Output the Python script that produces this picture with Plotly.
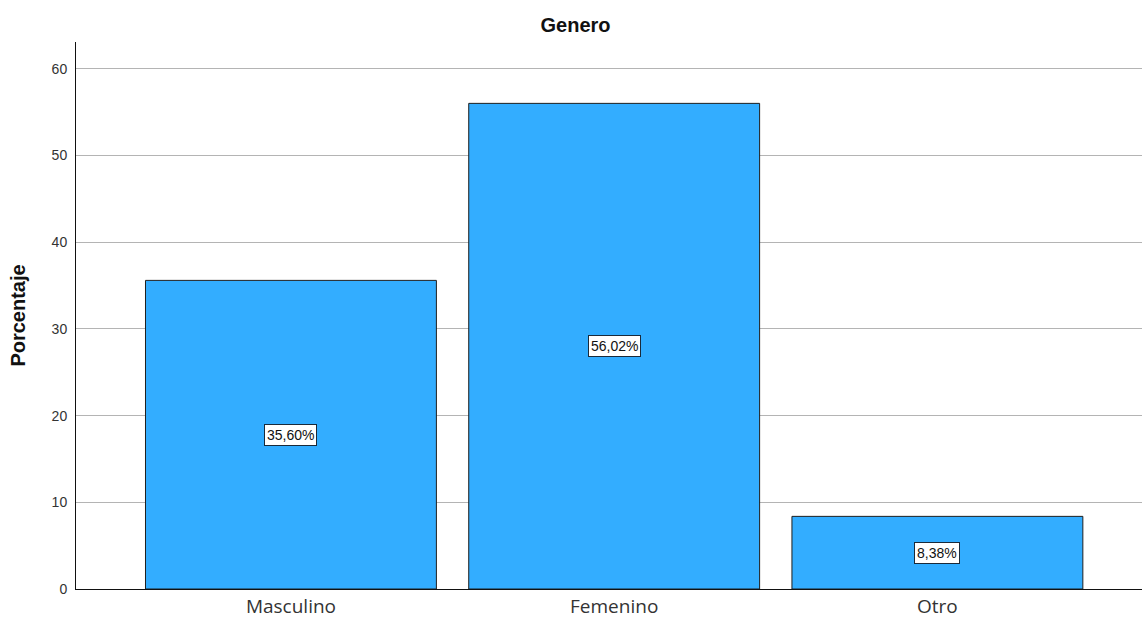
import plotly.graph_objects as go

categories = ["Masculino", "Femenino", "Otro"]
percentages = [35.60, 56.02, 8.38]
labels = ["35,60%", "56,02%", "8,38%"]
y_ticks = [0, 10, 20, 30, 40, 50, 60]

fig = go.Figure()
fig.add_trace(go.Bar(
    x=categories, y=percentages,
    marker=dict(color="#33adff", line=dict(color="#1f1f1f", width=1)),
    width=0.9,
    hoverinfo="skip",
))

for c, v, t in zip(categories, percentages, labels):
    fig.add_annotation(
        x=c, y=v / 2, text=t, showarrow=False,
        font=dict(family="Liberation Sans", size=14, color="#111"),
        bgcolor="white", bordercolor="#1a2a3a", borderwidth=1, borderpad=2,
    )

fig.update_layout(
    width=1142, height=620,
    margin=dict(l=76, r=0, t=42, b=31),
    plot_bgcolor="white", paper_bgcolor="white",
    title=dict(text="<b>Genero</b>", x=0.504, xref="container", xanchor="center",
               y=1 - 25 / 620, yref="container", yanchor="middle",
               font=dict(family="Liberation Sans", size=20, color="#111")),
    showlegend=False,
    bargap=0.1,
)
fig.update_xaxes(
    range=[-0.665, 2.633],
    showline=True, linecolor="#111", linewidth=1,
    showgrid=False, ticks="",
    ticklabelstandoff=0,
    tickfont=dict(family="Open Sans", size=19, color="#333"),
    automargin=False,
)
fig.update_yaxes(
    range=[0, 63.1],
    tickvals=y_ticks,
    showline=True, linecolor="#111", linewidth=1,
    showgrid=True, gridcolor="#b4b4b4", gridwidth=1,
    zeroline=False, ticks="",
    ticklabelstandoff=5,
    tickfont=dict(family="Liberation Sans", size=14, color="#333"),
    title=dict(text="<b>Porcentaje</b>", standoff=20,
               font=dict(family="Liberation Sans", size=20, color="#111")),
    automargin=False,
)

fig.write_html("out.html")
